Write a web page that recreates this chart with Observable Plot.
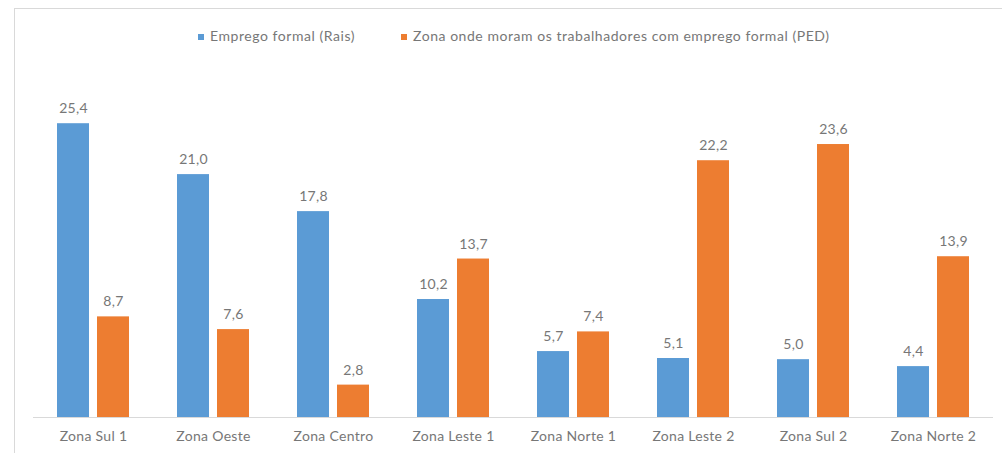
<!DOCTYPE html>
<html>
<head>
<meta charset="utf-8">
<script src="https://cdn.jsdelivr.net/npm/d3@7"></script>
<script src="https://cdn.jsdelivr.net/npm/@observablehq/plot@0.6"></script>
<style>
  html, body { margin: 0; padding: 0; background: #fff; width: 1002px; height: 453px; overflow: hidden; }
  #frame { position: absolute; left: 14px; top: 8px; width: 1100px; height: 600px; border: 1px solid #d9d9d9; box-sizing: border-box; }
  #legend { position: absolute; left: 0; top: 0; width: 1002px; height: 60px; font-family: Lato, sans-serif; font-size: 14px; color: #777; letter-spacing: 0.55px; }
  #legend .item { position: absolute; top: 27px; white-space: nowrap; }
  #legend .sw { display: inline-block; width: 6px; height: 6px; margin-right: 6px; vertical-align: 1px; }
  #chart { position: absolute; left: 0; top: 60px; }
</style>
</head>
<body>
<div id="frame"></div>
<div id="legend"></div>
<div id="chart"></div>
<script>
const categories = ["Zona Sul 1", "Zona Oeste", "Zona Centro", "Zona Leste 1", "Zona Norte 1", "Zona Leste 2", "Zona Sul 2", "Zona Norte 2"];
const seriesNames = ["Emprego formal (Rais)", "Zona onde moram os trabalhadores com emprego formal (PED)"];
const rais = [25.4, 21.0, 17.8, 10.2, 5.7, 5.1, 5.0, 4.4];
const ped = [8.7, 7.6, 2.8, 13.7, 7.4, 22.2, 23.6, 13.9];
const colors = ["#5B9BD5", "#ED7D31"];

const data = [];
categories.forEach((c, i) => {
  data.push({cat: c, series: seriesNames[0], value: rais[i]});
  data.push({cat: c, series: seriesNames[1], value: ped[i]});
});

const fmt = v => v.toFixed(1).replace(".", ",");

const legend = document.getElementById("legend");
const lefts = [198, 401];
seriesNames.forEach((s, i) => {
  const d = document.createElement("div");
  d.className = "item";
  d.style.left = lefts[i] + "px";
  d.innerHTML = `<span class="sw" style="background:${colors[i]}"></span>${s}`;
  legend.appendChild(d);
});

const chart = Plot.plot({
  width: 1002,
  height: 393,
  marginLeft: 33,
  marginRight: 9,
  marginTop: 10,
  marginBottom: 36,
  style: {fontFamily: "Lato, sans-serif", fontSize: "14px", color: "#777", background: "transparent", letterSpacing: "0.3px"},
  fx: {domain: categories, padding: 0, label: null, tickSize: 0, tickPadding: 14},
  x: {domain: seriesNames, paddingInner: 0.2, paddingOuter: 0.6, axis: null},
  y: {domain: [0, 30], axis: null},
  color: {domain: seriesNames, range: colors},
  marks: [
    Plot.barY(data, {fx: "cat", x: "series", y: "value", fill: "series"}),
    Plot.ruleY([0], {stroke: "#d9d9d9", strokeWidth: 1}),
    Plot.text(data, {fx: "cat", x: "series", y: "value", text: d => fmt(d.value), dy: -15, fill: "#777", fontSize: 14})
  ]
});
document.getElementById("chart").appendChild(chart);
</script>
</body>
</html>
